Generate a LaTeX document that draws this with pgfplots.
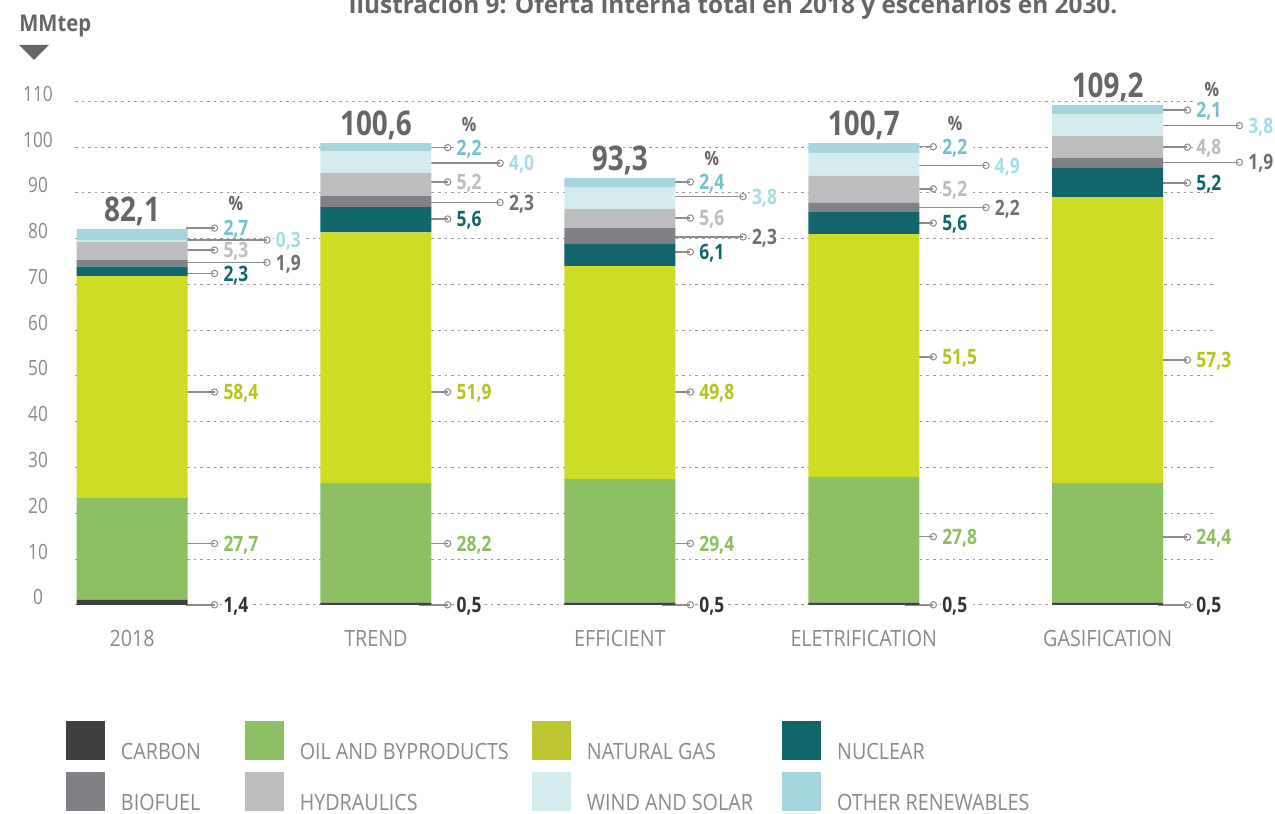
\documentclass[border=0pt]{standalone}
\usepackage{fontspec}
\setmainfont{Open Sans}[FakeStretch=0.82]
\newfontfamily\widefont{Open Sans}[FakeStretch=0.88]
\newfontfamily\titlefont{Open Sans}
\usepackage{pgfplots}
\usepackage{pgfplotstable}
\pgfplotsset{compat=1.18}

\definecolor{ccarbon}{HTML}{404040}
\definecolor{coil}{HTML}{8DC065}
\definecolor{cgas}{HTML}{CFDC26}
\definecolor{cnuc}{HTML}{12666B}
\definecolor{cbio}{HTML}{808185}
\definecolor{chyd}{HTML}{BCBDBF}
\definecolor{cwind}{HTML}{D5ECEF}
\definecolor{coth}{HTML}{A6D6DD}
\definecolor{lgas}{HTML}{BEC530}
\definecolor{tcarbon}{HTML}{333333}
\definecolor{toil}{HTML}{8CBF5F}
\definecolor{tgas}{HTML}{B6C41E}
\definecolor{tnuc}{HTML}{11666B}
\definecolor{tbio}{HTML}{707070}
\definecolor{thyd}{HTML}{BDBDBD}
\definecolor{twind}{HTML}{A6DDE3}
\definecolor{toth}{HTML}{72C2CC}
\definecolor{cdark}{HTML}{666666}
\definecolor{tickc}{HTML}{8A8A8A}
\definecolor{gridc}{HTML}{999999}
\definecolor{leadc}{HTML}{8C8C8C}

\pgfplotstableread{
x carbon oil gas nuclear biofuel hydro wind other
0 1.1 22.2 48.5 2.1 1.4 4.0 0.3 2.5
1 0.5 26.1 54.8 5.5 2.4 5.0 4.8 1.8
2 0.5 27.0 46.5 5.0 3.3 4.2 4.8 2.0
3 0.5 27.4 53.1 4.8 2.0 5.9 5.0 2.2
4 0.5 26.1 62.5 6.5 2.0 4.8 4.8 2.0
}\data

\tikzset{
  leader/.style={draw=leadc, line width=0.75pt},
  circ/.style={draw=leadc, fill=white, line width=0.5pt},
  vlab/.style={anchor=west, xshift=3.5pt, inner sep=0.8pt, text depth=0pt, fill=white, font=\fontsize{10.6}{12}\selectfont\bfseries},
  tot/.style={anchor=base, inner sep=0pt, font=\fontsize{17}{20}\selectfont\bfseries, text=cdark},
  pct/.style={anchor=base, inner sep=0pt, font=\fontsize{9.8}{11}\selectfont\bfseries, text=cdark},
}
\newcommand\lab[5]{%
  \draw[leader] (axis cs:#1,#3) -- (axis cs:#2,#3);
  \filldraw[circ] (axis cs:#2,#3) circle[radius=1.6pt];
  \node[vlab,text=#4] at (axis cs:#2,#3) {#5};}

\begin{document}
\begin{tikzpicture}
\path[use as bounding box] (-37.5pt,-104.6pt) rectangle (600pt,302.4pt);
\begin{axis}[
  at={(0pt,0pt)}, anchor=south west,
  width=570pt, height=251.7pt, scale only axis,
  xmin=-0.234, xmax=4.44, ymin=0, ymax=110,
  stack plots=y,
  clip=false,
  axis line style={draw=none},
  major tick length=0pt,
  ytick={0,10,...,110},
  xtick={0,1,2,3,4},
  xticklabels={2018,TREND,EFFICIENT,ELETRIFICATION,GASIFICATION},
  /pgf/number format/assume math mode=true,
  yticklabel style={anchor=base, xshift=-18.5pt, font=\fontsize{10.5}{12}\selectfont, text=tickc},
  xticklabel style={anchor=base, yshift=-20.6pt, font=\widefont\fontsize{11.2}{13}\selectfont, text=tickc},
  ymajorgrids,
  major grid style={draw=gridc, line width=0.5pt, dash pattern=on 1.3pt off 2pt},
  legend image code/.code={\fill[#1] (0pt,0pt) rectangle (19.5pt,19.5pt); \path (0pt,0pt) (27.5pt,0pt);},
  legend columns=4,
  legend style={at={(-0.0079,-0.2308)}, anchor=north west, draw=none, fill=none,
    inner sep=0pt, outer sep=0pt, column sep=0pt, row sep=6pt,
    cells={anchor=base west},
    nodes={inner sep=0pt, text depth=0pt, font=\widefont\fontsize{11.2}{13}\selectfont, text=tickc}},
]
\addplot[ybar, bar width=55.5pt, bar shift=0pt, fill=ccarbon, draw=none, forget plot] table[x=x,y=carbon]{\data};
\addplot[ybar, bar width=55.5pt, bar shift=0pt, fill=coil, draw=none, forget plot] table[x=x,y=oil]{\data};
\addplot[ybar, bar width=55.5pt, bar shift=0pt, fill=cgas, draw=none, forget plot] table[x=x,y=gas]{\data};
\addplot[ybar, bar width=55.5pt, bar shift=0pt, fill=cnuc, draw=none, forget plot] table[x=x,y=nuclear]{\data};
\addplot[ybar, bar width=55.5pt, bar shift=0pt, fill=cbio, draw=none, forget plot] table[x=x,y=biofuel]{\data};
\addplot[ybar, bar width=55.5pt, bar shift=0pt, fill=chyd, draw=none, forget plot] table[x=x,y=hydro]{\data};
\addplot[ybar, bar width=55.5pt, bar shift=0pt, fill=cwind, draw=none, forget plot] table[x=x,y=wind]{\data};
\addplot[ybar, bar width=55.5pt, bar shift=0pt, fill=coth, draw=none, forget plot] table[x=x,y=other]{\data};

\addlegendimage{fill=ccarbon, draw=none}\addlegendentry{\makebox[61.9pt][l]{CARBON}}
\addlegendimage{fill=coil, draw=none}\addlegendentry{\makebox[116.1pt][l]{OIL AND BYPRODUCTS}}
\addlegendimage{fill=lgas, draw=none}\addlegendentry{\makebox[97.6pt][l]{NATURAL GAS}}
\addlegendimage{fill=cnuc, draw=none}\addlegendentry{NUCLEAR}
\addlegendimage{fill=cbio, draw=none}\addlegendentry{\makebox[61.9pt][l]{BIOFUEL}}
\addlegendimage{fill=chyd, draw=none}\addlegendentry{\makebox[116.1pt][l]{HYDRAULICS}}
\addlegendimage{fill=cwind, draw=none}\addlegendentry{\makebox[97.6pt][l]{WIND AND SOLAR}}
\addlegendimage{fill=coth, draw=none}\addlegendentry{OTHER RENEWABLES}

% 2018
\lab{0.221}{0.338}{82.3}{toth}{2,7}
\lab{0.221}{0.553}{79.7}{twind}{0,3}
\lab{0.221}{0.338}{77.5}{thyd}{5,3}
\lab{0.221}{0.553}{74.8}{tbio}{1,9}
\lab{0.221}{0.338}{72.4}{tnuc}{2,3}
\lab{0.221}{0.338}{46.5}{tgas}{58,4}
\lab{0.221}{0.338}{13.4}{toil}{27,7}
\lab{0.221}{0.338}{0}{tcarbon}{1,4}
% TREND
\lab{1.177}{1.294}{99.9}{toth}{2,2}
\lab{1.177}{1.509}{96.5}{twind}{4,0}
\lab{1.177}{1.294}{92.4}{thyd}{5,2}
\lab{1.177}{1.509}{87.9}{tbio}{2,3}
\lab{1.177}{1.294}{84.3}{tnuc}{5,6}
\lab{1.177}{1.294}{46.5}{tgas}{51,9}
\lab{1.177}{1.294}{13.4}{toil}{28,2}
\lab{1.177}{1.294}{0}{tcarbon}{0,5}
% EFFICIENT
\lab{2.173}{2.289}{92.4}{toth}{2,4}
\lab{2.173}{2.505}{89.2}{twind}{3,8}
\lab{2.173}{2.289}{84.5}{thyd}{5,6}
\lab{2.173}{2.505}{80.4}{tbio}{2,3}
\lab{2.173}{2.289}{77.1}{tnuc}{6,1}
\lab{2.173}{2.289}{46.5}{tgas}{49,8}
\lab{2.173}{2.289}{13.4}{toil}{29,4}
\lab{2.173}{2.289}{0}{tcarbon}{0,5}
% ELETRIFICATION
\lab{3.169}{3.285}{100.1}{toth}{2,2}
\lab{3.169}{3.501}{96.0}{twind}{4,9}
\lab{3.169}{3.285}{90.9}{thyd}{5,2}
\lab{3.169}{3.501}{86.8}{tbio}{2,2}
\lab{3.169}{3.285}{83.4}{tnuc}{5,6}
\lab{3.169}{3.285}{54.2}{tgas}{51,5}
\lab{3.169}{3.285}{14.9}{toil}{27,8}
\lab{3.169}{3.285}{0}{tcarbon}{0,5}
% GASIFICATION
\lab{4.207}{4.327}{108.1}{toth}{2,1}
\lab{4.207}{4.540}{104.7}{twind}{3,8}
\lab{4.207}{4.327}{100.0}{thyd}{4,8}
\lab{4.207}{4.540}{96.7}{tbio}{1,9}
\lab{4.207}{4.327}{92.2}{tnuc}{5,2}
\lab{4.207}{4.327}{53.5}{tgas}{57,3}
\lab{4.207}{4.327}{14.8}{toil}{24,4}
\lab{4.207}{4.327}{0}{tcarbon}{0,5}

% totals
\node[tot] at (axis cs:0,83.7) {82,1};
\node[tot] at (axis cs:1,102.6) {100,6};
\node[tot] at (axis cs:2,94.9) {93,3};
\node[tot] at (axis cs:3,102.6) {100,7};
\node[tot] at (axis cs:4,110.8) {109,2};
\node[pct] at (axis cs:0.426,86.1) {\%};
\node[pct] at (axis cs:1.382,103.4) {\%};
\node[pct] at (axis cs:2.377,96.1) {\%};
\node[pct] at (axis cs:3.374,103.6) {\%};
\node[pct] at (axis cs:4.427,111.0) {\%};
\end{axis}
\node[anchor=base, inner sep=0pt, font=\titlefont\fontsize{12.2}{14}\selectfont\bfseries, text=cdark] at (329pt,295.4pt) {Ilustración 9: Oferta interna total en 2018 y escenarios en 2030.};
\node[anchor=base west, inner sep=0pt, font=\widefont\fontsize{11.5}{13}\selectfont\bfseries, text=cdark] at (-28pt,286.6pt) {MMtep};
\fill[cdark] (-28pt,279.9pt) -- (-13pt,279.9pt) -- (-20.5pt,272.4pt) -- cycle;
\end{tikzpicture}
\end{document}
